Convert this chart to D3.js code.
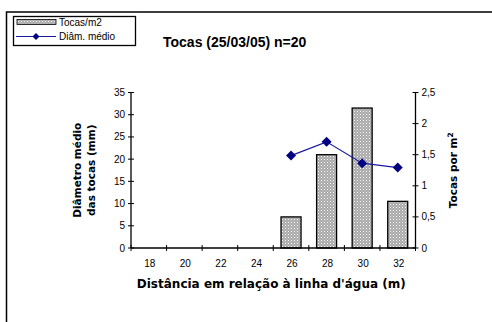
<!DOCTYPE html>
<html>
<head>
<meta charset="utf-8">
<script src="https://cdn.jsdelivr.net/npm/d3@7"></script>
<style>
  html, body { margin: 0; padding: 0; background: #fff; }
  svg { display: block; font-family: "Liberation Sans", Arial, sans-serif; }
</style>
</head>
<body>
<div id="chart"></div>
<script>
// chart data
const categories = ['18', '20', '22', '24', '26', '28', '30', '32'];
const tocasPorM2 = [null, null, null, null, 0.5, 1.5, 2.25, 0.75];
const diamMedio = [null, null, null, null, 20.8, 23.9, 19.1, 18.1];
const leftTicks = [0, 5, 10, 15, 20, 25, 30, 35];
const rightTicks = [0, 0.5, 1, 1.5, 2, 2.5];

const W = 492, H = 322;
const plot = { left: 131, right: 415.5, top: 92.5, bottom: 248 };

const svg = d3.select('#chart')
	.append('svg')
	.attr('width', W)
	.attr('height', H);

// dotted fill used by the bars
const defs = svg.append('defs');
const pat = defs.append('pattern')
	.attr('id', 'dots')
	.attr('width', 3)
	.attr('height', 3)
	.attr('patternUnits', 'userSpaceOnUse');
pat.append('rect').attr('width', 3).attr('height', 3).attr('fill', '#a8a8a8');
pat.append('rect').attr('x', 0).attr('y', 0).attr('width', 1).attr('height', 1).attr('fill', '#ffffff');
pat.append('rect').attr('x', 1.5).attr('y', 1.5).attr('width', 1).attr('height', 1).attr('fill', '#e0e0e0');

// outer frame (runs past the window on right and bottom)
svg.append('rect')
	.attr('x', 6.5).attr('y', 12)
	.attr('width', 520).attr('height', 340)
	.attr('fill', 'none')
	.attr('stroke', '#000')
	.attr('stroke-width', 1.5);

const x = d3.scaleBand()
	.domain(categories)
	.range([plot.left, plot.right])
	.paddingInner(0.4375)
	.paddingOuter(0.21875);

const yLeft = d3.scaleLinear().domain([0, 35]).range([plot.bottom, plot.top]);
const yRight = d3.scaleLinear().domain([0, 2.5]).range([plot.bottom, plot.top]);

const fmtComma = d => String(d).replace('.', ',');

// bars
svg.append('g')
	.selectAll('rect')
	.data(categories.map((c, i) => ({ c, v: tocasPorM2[i] })).filter(d => d.v != null))
	.join('rect')
	.attr('x', d => x(d.c))
	.attr('y', d => yRight(d.v))
	.attr('width', x.bandwidth())
	.attr('height', d => yRight(0) - yRight(d.v))
	.attr('fill', 'url(#dots)')
	.attr('stroke', '#000')
	.attr('stroke-width', 1.3);

// left axis
const gL = svg.append('g');
gL.append('line')
	.attr('x1', plot.left).attr('x2', plot.left)
	.attr('y1', plot.top).attr('y2', plot.bottom)
	.attr('stroke', '#000').attr('stroke-width', 1.3);
gL.selectAll('line.tk').data(leftTicks).join('line')
	.attr('class', 'tk')
	.attr('x1', plot.left - 3).attr('x2', plot.left + 3)
	.attr('y1', d => yLeft(d)).attr('y2', d => yLeft(d))
	.attr('stroke', '#000');
gL.selectAll('text').data(leftTicks).join('text')
	.attr('x', plot.left - 6)
	.attr('y', d => yLeft(d) + 3.5)
	.attr('text-anchor', 'end')
	.attr('font-size', 10)
	.text(d => d);

// right axis
const gR = svg.append('g');
gR.append('line')
	.attr('x1', plot.right).attr('x2', plot.right)
	.attr('y1', plot.top).attr('y2', plot.bottom)
	.attr('stroke', '#000').attr('stroke-width', 1.3);
gR.selectAll('line.tk').data(rightTicks).join('line')
	.attr('class', 'tk')
	.attr('x1', plot.right - 3).attr('x2', plot.right + 3)
	.attr('y1', d => yRight(d)).attr('y2', d => yRight(d))
	.attr('stroke', '#000');
gR.selectAll('text').data(rightTicks).join('text')
	.attr('x', plot.right + 6)
	.attr('y', d => yRight(d) + 3.5)
	.attr('font-size', 10)
	.text(fmtComma);

// bottom axis, ticks sit on category boundaries
const gB = svg.append('g');
gB.append('line')
	.attr('x1', plot.left).attr('x2', plot.right)
	.attr('y1', plot.bottom).attr('y2', plot.bottom)
	.attr('stroke', '#000').attr('stroke-width', 1.3);
const bounds = categories.map(c => x(c) - x.step() * x.paddingInner() / 2).concat([plot.right]);
gB.selectAll('line.tk').data(bounds).join('line')
	.attr('class', 'tk')
	.attr('x1', d => d).attr('x2', d => d)
	.attr('y1', plot.bottom - 3).attr('y2', plot.bottom + 3)
	.attr('stroke', '#000');
gB.selectAll('text').data(categories).join('text')
	.attr('x', d => x(d) + x.bandwidth() / 2 + 1)
	.attr('y', plot.bottom + 19)
	.attr('text-anchor', 'middle')
	.attr('font-size', 10)
	.text(d => d);

// diameter line
const linePts = categories.map((c, i) => ({ c, v: diamMedio[i] })).filter(d => d.v != null);
const lineGen = d3.line()
	.x(d => x(d.c) + x.bandwidth() / 2)
	.y(d => yLeft(d.v));
svg.append('path')
	.datum(linePts)
	.attr('d', lineGen)
	.attr('fill', 'none')
	.attr('stroke', '#1a1aa0')
	.attr('stroke-width', 1.2);
svg.append('g')
	.selectAll('path')
	.data(linePts)
	.join('path')
	.attr('transform', d => `translate(${x(d.c) + x.bandwidth() / 2},${yLeft(d.v)})`)
	.attr('d', 'M0,-5L5,0L0,5L-5,0Z')
	.attr('fill', '#000080');

// titles
svg.append('text')
	.attr('x', 163).attr('y', 47)
	.attr('font-size', 14)
	.attr('font-weight', 'bold')
	.text('Tocas (25/03/05) n=20');

svg.append('text')
	.attr('x', (plot.left + plot.right) / 2 - 2).attr('y', 288)
	.attr('text-anchor', 'middle')
	.attr('font-family', '"DejaVu Sans", sans-serif')
	.attr('font-size', 12)
	.attr('font-weight', 'bold')
	.text('Distância em relação à linha d\'água (m)');

const ly = svg.append('g')
	.attr('font-family', '"DejaVu Sans", sans-serif')
	.attr('font-size', 10.5)
	.attr('font-weight', 'bold')
	.attr('text-anchor', 'middle');
ly.append('text')
	.attr('transform', `translate(81,${(plot.top + plot.bottom) / 2}) rotate(-90)`)
	.text('Diâmetro médio');
ly.append('text')
	.attr('transform', `translate(95,${(plot.top + plot.bottom) / 2}) rotate(-90)`)
	.text('das tocas (mm)');
const rt = ly.append('text')
	.attr('transform', `translate(457,${(plot.top + plot.bottom) / 2}) rotate(-90)`);
rt.append('tspan').text('Tocas por m');
rt.append('tspan').attr('dy', -4).attr('font-size', 7.5).text('2');

// legend
const lg = svg.append('g').attr('font-size', 10);
lg.append('rect')
	.attr('x', 13.5).attr('y', 16.5)
	.attr('width', 122).attr('height', 29)
	.attr('fill', '#fff')
	.attr('stroke', '#000')
	.attr('stroke-width', 1.3);
lg.append('rect')
	.attr('x', 17).attr('y', 19.5)
	.attr('width', 39).attr('height', 5)
	.attr('fill', 'url(#dots)')
	.attr('stroke', '#000')
	.attr('stroke-width', 0.8);
lg.append('text').attr('x', 59).attr('y', 26).text('Tocas/m2');
lg.append('line')
	.attr('x1', 16).attr('x2', 56)
	.attr('y1', 36.5).attr('y2', 36.5)
	.attr('stroke', '#1a1aa0').attr('stroke-width', 1.2);
lg.append('path')
	.attr('transform', 'translate(36,36.5)')
	.attr('d', 'M0,-3.5L3.5,0L0,3.5L-3.5,0Z')
	.attr('fill', '#000080');
lg.append('text').attr('x', 59).attr('y', 40).text('Diâm. médio');
</script>
</body>
</html>
